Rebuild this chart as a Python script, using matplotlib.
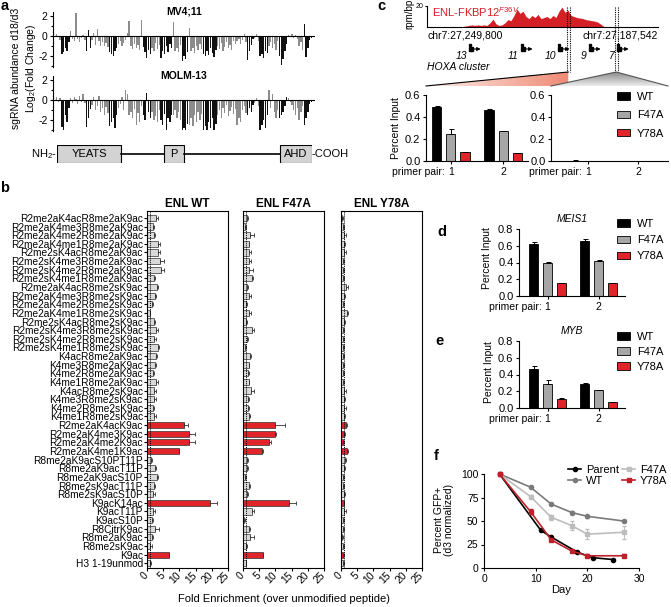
import numpy as np
import matplotlib
matplotlib.use("Agg")
import matplotlib.pyplot as plt
from matplotlib.patches import Rectangle, Polygon, Patch
from matplotlib.lines import Line2D

plt.rcParams['font.family'] = ['Liberation Sans', 'DejaVu Sans']
plt.rcParams['mathtext.fontset'] = 'custom'
plt.rcParams['mathtext.rm'] = 'Liberation Sans'
plt.rcParams['mathtext.it'] = 'Liberation Sans:italic'
plt.rcParams['axes.unicode_minus'] = False
plt.rcParams['font.size'] = 7.5
plt.rcParams['axes.linewidth'] = 0.8
for a in ('xtick', 'ytick'):
    plt.rcParams[a + '.major.width'] = 0.8
    plt.rcParams[a + '.major.size'] = 2.5
    plt.rcParams[a + '.minor.width'] = 0.8
    plt.rcParams[a + '.minor.size'] = 1.5
    plt.rcParams[a + '.major.pad'] = 1.5
    plt.rcParams[a + '.labelsize'] = 7.5

RED = '#e0242a'
GREY = '#a6a6a6'
LIGHT = '#d9d9d9'

# ---------------- data ----------------
# a: CRISPR tiling of ENL, log2 fold change d18/d3 (alternating exons)
a_group_sizes = [3, 5, 9, 3, 10, 5, 14, 5, 5, 7, 5, 4, 8, 8, 17, 4, 3, 5, 6, 5, 9, 5]
mv411_lfc = [0.2, -0.1, -0.4,
             -1.8, -1.6, -1.2, -1.5, -0.6,
             0.5, -0.3, -0.5, 2.3, -0.3, -0.6, -0.2, 0.1, -0.4,
             -1.5, 0.6, -1.2,
             -0.4, 0.3, -0.9, 0.7, -0.5, -1.0, -0.6, -1.0, -0.7, -1.1,
             -1.6, -1.8, -2.0, -1.5, -1.2,
             -0.8, -0.5, -1.0, -0.7, -0.4, 0.3, 1.5, -1.0, -1.3, -0.8, -1.2, -0.9, -1.4, 1.6,
             -1.1, -1.6, -2.2, -1.4, -1.8,
             -1.2, -1.5, -0.7, -1.3, -0.9,
             -2.2, -1.5, -1.8, -1.0, -1.6, -0.8, -1.2,
             1.4, -1.5, -1.2, -1.6, -0.9,
             -2.5, -2.0, -2.3, -1.6,
             0.8, -1.5, -1.2, -1.7, -1.0, -1.4, -0.8, -1.3,
             -1.8, -2.0, -1.5, -1.9, -1.2, -1.7, -2.1, -1.4,
             -1.0, -1.3, -0.7, -1.5, -1.1, -0.6, -1.2, -0.9, -1.4, -0.5, -0.8, -0.5, -0.3, -0.8, -0.4, 0.2, -0.6,
             -2.4, -1.5, -0.9, -0.3,
             -0.2, 0.2, -0.5,
             -2.0, -1.8, -2.2, -1.5, -1.7,
             -1.0, -0.6, -1.2, -0.8, -1.4, -0.5,
             -2.0, -2.9, -2.3, -1.5, -0.8,
             0.1, -0.1, 0.2, -0.2, 0.1, -0.3, -1.0, -0.6, -1.4,
             1.2, -2.1, -1.2, -0.4, -0.2]
molm13_lfc = [0.3, -0.2, 0.2,
              -2.7, -3.0, -1.5, -2.2, -0.8,
              0.2, -0.3, 0.3, 0.1, -0.4, 0.4, -0.2, 0.6, -0.3,
              -2.7, -1.8, -0.9,
              -0.5, 0.3, -1.0, -0.6, 0.4, -1.2, -0.8, -1.5, -0.7, -1.3,
              -2.6, -2.2, -1.8, -2.8, -1.5,
              -0.8, -0.4, 0.3, -1.0, 1.0, 0.6, -1.5, -1.2, -1.8, -0.9, -2.5, -1.3, -2.2, -0.6,
              -1.5, -2.0, 0.7, -1.2, -1.8,
              -1.2, -2.0, -1.6, -2.2, -1.0,
              -2.0, -2.5, -1.4, -3.0, -1.8, -2.2, -1.5,
              -1.5, -1.0, -1.8, -1.2, -2.0,
              -3.0, -2.8, -3.0, -2.4,
              -2.5, -1.8, -2.6, -1.5, -2.2, -1.2, -2.0, -1.4,
              -3.0, -2.6, -3.0, -2.2, -2.8, -1.8, -3.0, -2.4,
              -1.5, -1.0, -1.8, -0.8, -1.3, -0.5, -1.6, -1.1, -0.7, -1.4, -0.9, -2.5, -1.8, -2.2, -1.0, -0.6, -1.3,
              -1.5, -0.8, -1.2, -0.5,
              -0.3, 0.2, -0.6,
              -3.0, -2.5, -2.0, -2.8, -1.5,
              1.0, -0.8, 0.6, -1.2, -1.8, -1.0,
              -1.8, -1.5, -1.2, -0.6, 0.3,
              0.2, -0.2, -0.5, -1.0, -1.5, -0.8, -2.0, -1.2, -0.6,
              -2.5, -1.8, -1.2, -0.4, -0.2]
enl_length = 559
domain_names = ['YEATS', 'P', 'AHD']
domain_start = [1, 235, 488]
domain_end = [140, 279, 559]

# b: peptide array
peptides = ['R2me2aK4acR8me2aK9ac', 'R2me2aK4me3R8me2aK9ac', 'R2me2aK4me2R8me2aK9ac',
            'R2me2aK4me1R8me2aK9ac', 'R2me2sK4acR8me2aK9ac', 'R2me2sK4me3R8me2aK9ac',
            'R2me2sK4me2R8me2aK9ac', 'R2me2sK4me1R8me2aK9ac', 'R2me2aK4acR8me2sK9ac',
            'R2me2aK4me3R8me2sK9ac', 'R2me2aK4me2R8me2sK9ac', 'R2me2aK4me1R8me2sK9ac',
            'R2me2sK4acR8me2sK9ac', 'R2me2sK4me3R8me2sK9ac', 'R2me2sK4me2R8me2sK9ac',
            'R2me2sK4me1R8me2sK9ac', 'K4acR8me2aK9ac', 'K4me3R8me2aK9ac', 'K4me2R8me2aK9ac',
            'K4me1R8me2aK9ac', 'K4acR8me2sK9ac', 'K4me3R8me2sK9ac', 'K4me2R8me2sK9ac',
            'K4me1R8me2sK9ac', 'R2me2aK4acK9ac', 'R2me2aK4me3K9ac', 'R2me2aK4me2K9ac',
            'R2me2aK4me1K9ac', 'R8me2aK9acS10PT11P', 'R8me2aK9acT11P', 'R8me2aK9acS10P',
            'R8me2sK9acT11P', 'R8me2sK9acS10P', 'K9acK14ac', 'K9acT11P', 'K9acS10P',
            'R8CitrK9ac', 'R8me2aK9ac', 'R8me2sK9ac', 'K9ac', 'H3 1-19unmod']
binders = ['R2me2aK4acK9ac', 'R2me2aK4me3K9ac', 'R2me2aK4me2K9ac', 'R2me2aK4me1K9ac',
           'K9acK14ac', 'K9ac']
wt_fe = [2.9, 1.9, 2.3, 3.3, 3.3, 3.9, 4.3, 2.3, 3.1, 2.6, 1.6, 0.8, 2.3, 2.9, 2.3, 3.3, 2.7,
         2.5, 1.9, 2.7, 2.3, 2.3, 1.7, 2.3, 11.3, 13.1, 13.1, 9.8, 1.2, 2.6, 3.1, 2.1, 1.9,
         19.3, 1.9, 1.5, 2.4, 1.5, 1.0, 6.7, 1.0]
wt_err = [0.5, 0.3, 0.3, 0.8, 0.8, 1.5, 0.8, 0.3, 0.3, 0.3, 0.3, 0.2, 0.3, 0.4, 0.4, 0.3, 0.4,
          0.4, 0.3, 0.6, 0.4, 0.5, 0.4, 0.4, 1.5, 1.8, 1.8, 0.2, 0.2, 0.3, 0.4, 0.5, 0.5,
          2.4, 0.5, 0.4, 1.2, 0.5, 0.4, 0.1, 0.1]
f47a_fe = [1.2, 0.7, 2.3, 1.7, 2.0, 1.7, 2.0, 2.8, 1.2, 1.9, 1.0, 2.0, 1.0, 2.8, 1.2, 0.7, 2.3,
           1.7, 1.4, 1.7, 2.5, 1.4, 1.4, 1.9, 9.8, 10.0, 8.1, 5.9, 1.2, 1.2, 0.7, 2.0, 1.2,
           14.1, 2.8, 0.4, 2.0, 2.3, 1.0, 6.2, 0.8]
f47a_err = [0.2, 0.1, 1.2, 0.3, 0.4, 0.7, 1.0, 0.3, 0.3, 0.7, 0.2, 0.6, 0.3, 0.7, 0.2, 0.1, 0.3,
            0.3, 0.3, 0.3, 0.8, 0.3, 0.3, 0.3, 3.1, 0.2, 0.6, 0.2, 0.2, 0.2, 0.1, 0.3, 0.2,
            2.4, 0.7, 0.1, 0.3, 1.2, 0.2, 0.1, 0.1]
y78a_fe = [0.4, 0.5, 0.9, 0.8, 1.0, 0.6, 0.6, 0.7, 1.6, 0.8, 0.7, 1.7, 0.8, 0.6, 0.7, 0.6, 0.5,
           0.6, 0.6, 0.7, 1.0, 0.9, 0.9, 0.8, 1.6, 0.9, 0.7, 1.8, 1.2, 0.9, 0.7, 0.7, 0.8,
           0.8, 1.0, 0.6, 0.5, 0.4, 0.6, 0.6, 0.7]
y78a_err = [0.3, 0.3, 0.5, 0.4, 0.5, 0.3, 0.3, 0.3, 0.7, 0.4, 0.3, 0.4, 0.3, 0.3, 0.3, 0.3, 0.3,
            0.3, 0.3, 0.3, 0.5, 0.4, 0.7, 0.4, 0.3, 0.2, 0.2, 0.4, 0.3, 0.3, 0.3, 0.3, 0.4,
            0.2, 0.4, 0.3, 0.3, 0.2, 0.3, 0.2, 0.2]

# c: ChIP-seq track over HOXA + ChIP-qPCR
track_left, track_right = 27249800, 27187542
track_pos = np.linspace(track_left, track_right, 78)
track_signal = [0] * 12 + [0.5, 1, 1.5, 2, 1.5, 2, 1.5, 2, 1.5] + \
    [4, 7.5, 3, 1.5, 2, 4, 7, 6, 11, 17, 13, 15, 10, 8, 11, 9, 12, 8, 9, 10, 8, 11, 9, 15,
     19, 14, 16, 11, 10, 9, 8.5, 8, 7, 6.5, 6, 5.5, 4.5, 2.5, 0.5] + [0] * 18
hoxa_genes = ['13', '11', '10', '9', '7']
hoxa_pos = [27237940, 27223930, 27213950, 27205600, 27198050]
amplicon_1 = (27212068, 27211394)
amplicon_2 = (27199131, 27198457)

genotypes = ['WT', 'F47A', 'Y78A']
geno_colors = ['black', GREY, RED]
primer_pairs = [1, 2]
hoxa_peak = [[0.49, 0.46], [0.25, 0.27], [0.08, 0.07]]
hoxa_peak_err = [[0.012, 0.01], [0.04, 0.005], [0.005, 0.004]]
hoxa_off = [[0.004, 0.003], [0.003, 0.003], [0.002, 0.002]]
hoxa_off_err = [[0.001, 0.001], [0.001, 0.001], [0.001, 0.001]]
# d, e
meis1 = [[0.62, 0.66], [0.40, 0.42], [0.15, 0.15]]
meis1_err = [[0.03, 0.025], [0.004, 0.004], [0.008, 0.008]]
myb = [[0.47, 0.29], [0.29, 0.21], [0.11, 0.07]]
myb_err = [[0.03, 0.004], [0.05, 0.004], [0.008, 0.004]]

# f: competition assay
parent_days = [3, 11, 13, 18, 21, 25]
parent_gfp = [100, 40, 33, 17, 11, 9]
rescue_days = [3, 9, 13, 17, 20, 27]
wt_gfp = [100, 86, 68, 59, 55, 50]
wt_gfp_err = [0, 1, 1.5, 1.5, 1.5, 1.5]
f47a_gfp = [100, 76, 54, 45, 36, 38]
f47a_gfp_err = [0, 1.5, 2.5, 5, 5, 7]
y78a_gfp = [100, 60, 30, 18, 13, 13]
y78a_gfp_err = [0, 2.5, 1.5, 1.5, 1.5, 1.5]

# ---------------- figure ----------------
W, H = 671, 607
fig = plt.figure(figsize=(W / 100, H / 100), dpi=100)


def add_ax(x0, y0, x1, y1):
    return fig.add_axes([x0 / W, 1 - y1 / H, (x1 - x0) / W, (y1 - y0) / H])


def ftext(x, y, s, **kw):
    kw.setdefault('ha', 'center')
    kw.setdefault('va', 'center')
    return fig.text(x / W, 1 - y / H, s, **kw)


def to_px(ax, x, y):
    dx, dy = ax.transData.transform((x, y))
    return dx, H - dy


for lab, x, y in [('a', 5, 6), ('b', 5, 188), ('c', 381, 6), ('d', 442, 232),
                  ('e', 440, 341), ('f', 436, 456)]:
    ftext(x, y, lab, fontsize=10.5, fontweight='bold')

# ---- a ----
a_colors = []
for k, n in enumerate(a_group_sizes):
    a_colors += ['#8c8c8c' if k % 2 == 0 else '#111111'] * n
idx = np.arange(len(mv411_lfc))
for y0, y1, vals, title in [(12, 67, mv411_lfc, 'MV4;11'), (76, 131, molm13_lfc, 'MOLM-13')]:
    ax = add_ax(53, y0, 315, y1)
    ax.bar(idx, vals, width=0.75, color=a_colors, linewidth=0)
    ax.axhline(0, color='k', lw=0.8)
    ax.set_xlim(-2, len(idx) + 1)
    ax.set_ylim(-3.1, 2.4)
    for s in ('top', 'right', 'bottom'):
        ax.spines[s].set_visible(False)
    ax.set_xticks([])
    ax.set_yticks([-2, 0, 2])
    ax.set_yticks([-3, -1, 1], minor=True)
    ax.text(0.5, 1.0, title, transform=ax.transAxes, ha='center', va='center',
            fontsize=7.5, fontweight='bold')
ftext(16, 68, 'sgRNA abundance d18/d3', rotation=90)
ftext(31, 68, 'Log$_2$(Fold Change)', rotation=90)

dax = add_ax(57, 145, 312, 163)
dax.set_xlim(0, enl_length)
dax.set_ylim(0, 1)
dax.axis('off')
for k in range(len(domain_names) - 1):
    dax.plot([domain_end[k], domain_start[k + 1]], [0.5, 0.5], color='k', lw=1.2)
for name, s, e in zip(domain_names, domain_start, domain_end):
    dax.add_patch(Rectangle((s, 0), e - s, 1, fc='#d3d3d3', ec='k', lw=0.8))
    dax.text((s + e) / 2, 0.5, name, ha='center', va='center', fontsize=8)
dax.text(0, 0.5, 'NH$_2$-', ha='right', va='center', fontsize=8)
dax.text(enl_length, 0.5, '-COOH', ha='left', va='center', fontsize=8)

# ---- b ----
rows = np.arange(len(peptides))
bcol = [RED if p in binders else LIGHT for p in peptides]
for k, (title, vals, err, x0, x1) in enumerate([('ENL WT', wt_fe, wt_err, 147, 228),
                                                ('ENL F47A', f47a_fe, f47a_err, 243, 324),
                                                ('ENL Y78A', y78a_fe, y78a_err, 341, 422)]):
    ax = add_ax(x0, 211, x1, 568)
    ax.barh(rows, vals, height=0.72, color=bcol, edgecolor='#333333', linewidth=0.5,
            xerr=[np.zeros(len(vals)), err],
            error_kw=dict(elinewidth=0.6, capsize=1.3, capthick=0.6, ecolor='#333333'))
    ax.axvline(1, color='k', ls=(0, (1, 1)), lw=0.7)
    ax.set_xlim(0, 25)
    ax.set_ylim(40.55, -0.8)
    ax.set_xticks(range(0, 26, 5))
    ax.set_xticklabels([str(t) for t in range(0, 26, 5)], rotation=45, ha='right',
                       va='center', rotation_mode='anchor')
    if k == 0:
        ax.set_yticks(rows)
        ax.set_yticklabels(peptides, fontsize=7.3)
        ax.tick_params(axis='y', length=2, pad=1)
    else:
        ax.set_yticks([])
    ax.set_title(title, fontsize=8.5, fontweight='bold', pad=3)
ftext(284, 599, 'Fold Enrichment (over unmodified peptide)', fontsize=8)

# ---- c track ----
trk = add_ax(427, 6, 658, 27)
trk.fill_between(track_pos, track_signal, color='#d41f26', lw=0)
trk.set_xlim(track_left, track_right)
trk.set_ylim(0, 20)
trk.set_yticks([20])
trk.tick_params(axis='y', labelsize=5, length=1.5, pad=1)
trk.set_xticks([])
for s in ('top', 'right'):
    trk.spines[s].set_visible(False)
ftext(409, 14, 'rpm/bp', rotation=90, fontsize=7)
trk.text(0.02, 0.7, 'ENL-FKBP12$^{F36V}$', transform=trk.transAxes, color='#d41f26',
         ha='left', va='center', fontsize=8)
ftext(427, 35, 'chr7:27,249,800', ha='left')
ftext(658, 35, 'chr7:27,187,542', ha='right')

gax = add_ax(427, 38, 658, 62)
gax.set_xlim(track_left, track_right)
gax.set_ylim(62, 38)
gax.axis('off')
for g, p in zip(hoxa_genes, hoxa_pos):
    gax.plot([p], [49], marker='s', ms=3, color='k', ls='none')
    gax.plot([p + 350], [44.5], marker='s', ms=1.6, color='k', ls='none')
    gax.annotate('', xy=(p - 2600, 49), xytext=(p - 300, 49),
                 arrowprops=dict(arrowstyle='-|>', color='k', lw=0.8, mutation_scale=5,
                                 shrinkA=0, shrinkB=0))
    gax.annotate(g, xy=(p, 49), xytext=(-3, -1.5), textcoords='offset points',
                 ha='right', va='top', style='italic', fontsize=7.5)
ftext(427, 67, 'HOXA cluster', ha='left', style='italic')

# ---- c/d/e ChIP-qPCR ----
bar_offsets = [-0.27, 0, 0.27]


def chip_axes(box, vals, errs, ymax, xlim):
    ax = add_ax(*box)
    for k in range(3):
        x = np.array(primer_pairs) + bar_offsets[k]
        ax.bar(x, vals[k], width=0.18, color=geno_colors[k], edgecolor='k', linewidth=0.6,
               yerr=[np.zeros(2), errs[k]],
               error_kw=dict(elinewidth=0.7, capsize=1.8, capthick=0.7, ecolor='k'))
    ax.set_xlim(*xlim)
    ax.set_ylim(0, ymax)
    ticks = np.arange(0, ymax + 0.01, 0.2)
    ax.set_yticks(ticks)
    ax.set_yticklabels(['%.1f' % t for t in ticks], fontsize=8)
    ax.set_xticks(primer_pairs)
    ax.set_xticklabels([str(p) for p in primer_pairs], fontsize=7.5)
    ax.annotate('primer pair:', xy=(primer_pairs[0], 0), xycoords=('data', 'axes fraction'),
                xytext=(-4.5, -4), textcoords='offset points', ha='right', va='top',
                fontsize=7.5)
    for s in ('top', 'right'):
        ax.spines[s].set_visible(False)
    return ax


cl = chip_axes((426, 95, 528, 161), hoxa_peak, hoxa_peak_err, 0.6, (0.53, 2.47))
cr = chip_axes((551, 95, 668, 161), hoxa_off, hoxa_off_err, 0.6, (0.26, 2.6))
ftext(396, 128, 'Percent Input', rotation=90)

dd = chip_axes((519, 229, 625, 296), meis1, meis1_err, 0.8, (0.44, 2.52))
dd.set_title('MEIS1', style='italic', fontsize=7.5, pad=5)
ftext(487, 258, 'Percent Input', rotation=90)

ee = chip_axes((519, 341, 625, 408), myb, myb_err, 0.8, (0.44, 2.52))
ee.set_title('MYB', style='italic', fontsize=7.5, pad=5)
ftext(489, 372, 'Percent Input', rotation=90)

geno_handles = [Patch(facecolor=c, edgecolor='k', linewidth=0.6) for c in geno_colors]
for ytop, spacing in [(92, 0.75), (219, 0.55), (332, 0.45)]:
    fig.legend(geno_handles, genotypes, loc='upper left',
               bbox_to_anchor=(617 / W, 1 - ytop / H), frameon=False, fontsize=8,
               handlelength=1.2, handleheight=0.65, handletextpad=0.6,
               labelspacing=spacing, borderpad=0, borderaxespad=0)

# ---- f ----
fa = add_ax(484, 474, 639, 568)
fa.errorbar(rescue_days, wt_gfp, yerr=wt_gfp_err, color='#7a7a7a', marker='o', ms=3,
            lw=1.2, capsize=1.5, elinewidth=0.7, clip_on=False, label='WT')
fa.errorbar(rescue_days, f47a_gfp, yerr=f47a_gfp_err, color='#bdbdbd', marker='s', ms=3,
            lw=1.2, capsize=1.5, elinewidth=0.7, clip_on=False, label='F47A')
fa.errorbar(rescue_days, y78a_gfp, yerr=y78a_gfp_err, color='#c0202a', marker='s', ms=3,
            lw=1.2, capsize=1.5, elinewidth=0.7, clip_on=False, label='Y78A')
fa.plot(parent_days, parent_gfp, color='black', marker='o', ms=3, lw=1.2, clip_on=False,
        label='Parent')
fa.set_xlim(0, 30)
fa.set_ylim(0, 100)
fa.set_xticks([0, 10, 20, 30])
fa.set_yticks([0, 25, 50, 75, 100])
for s in ('top', 'right'):
    fa.spines[s].set_visible(False)
fa.set_xlabel('Day', fontsize=8, labelpad=1)
ftext(444, 520, 'Percent GFP+\n(d3 normalized)', rotation=90, linespacing=1.1)
hdl = [Line2D([], [], color='black', marker='o', ms=3, lw=1.2),
       Line2D([], [], color='#7a7a7a', marker='o', ms=3, lw=1.2),
       Line2D([], [], color='#bdbdbd', marker='s', ms=3, lw=1.2),
       Line2D([], [], color='#c0202a', marker='s', ms=3, lw=1.2)]
fig.legend(hdl, ['Parent', 'WT', 'F47A', 'Y78A'], ncol=2, loc='upper left',
           bbox_to_anchor=(568 / W, 1 - 465 / H), frameon=False, fontsize=8,
           handlelength=1.2, handletextpad=0.4, columnspacing=0.3, labelspacing=0.05,
           borderpad=0, borderaxespad=0)

# ---- overlay: zoom lines and wedges ----
ov = add_ax(0, 0, W, H)
ov.axis('off')
for amp in (amplicon_1, amplicon_2):
    for p in amp:
        xp, _ = to_px(trk, p, 0)
        ov.plot([xp, xp], [7, 72], color='k', ls=(0, (1, 1)), lw=0.8)

ax1 = to_px(trk, np.mean(amplicon_1), 0)[0]
ax2 = to_px(trk, np.mean(amplicon_2), 0)[0]
cl_left = to_px(cl, cl.get_xlim()[0], 0)[0]
cr_left = to_px(cr, cr.get_xlim()[0], 0)[0]
cr_right = to_px(cr, cr.get_xlim()[1], 0)[0]

red_poly = Polygon([(cl_left, 86), (ax1, 72), (ax1, 86)], closed=True, fc='none', ec='none')
ov.add_patch(red_poly)
im = ov.imshow(np.linspace(0, 1, 100).reshape(1, -1), extent=(cl_left, ax1, 86, 72),
               cmap=matplotlib.colors.LinearSegmentedColormap.from_list('r', ['#fdeee9', '#ef8a75']),
               aspect='auto')
im.set_clip_path(red_poly)
ov.plot([cl_left, ax1], [86, 72], color='k', lw=0.8)

grey_poly = Polygon([(cr_left, 86), (ax2, 72), (cr_right, 86)], closed=True, fc='none', ec='none')
ov.add_patch(grey_poly)
im2 = ov.imshow(np.linspace(0, 1, 100).reshape(-1, 1), extent=(cr_left, cr_right, 86, 72),
                cmap=matplotlib.colors.LinearSegmentedColormap.from_list('g', ['#8a8a8a', '#ececec']),
                aspect='auto')
im2.set_clip_path(grey_poly)
ov.plot([cr_left, ax2, cr_right], [86, 72, 86], color='#555555', lw=0.8)
ov.set_xlim(0, W)
ov.set_ylim(H, 0)

fig.savefig('out.png', dpi=100)
